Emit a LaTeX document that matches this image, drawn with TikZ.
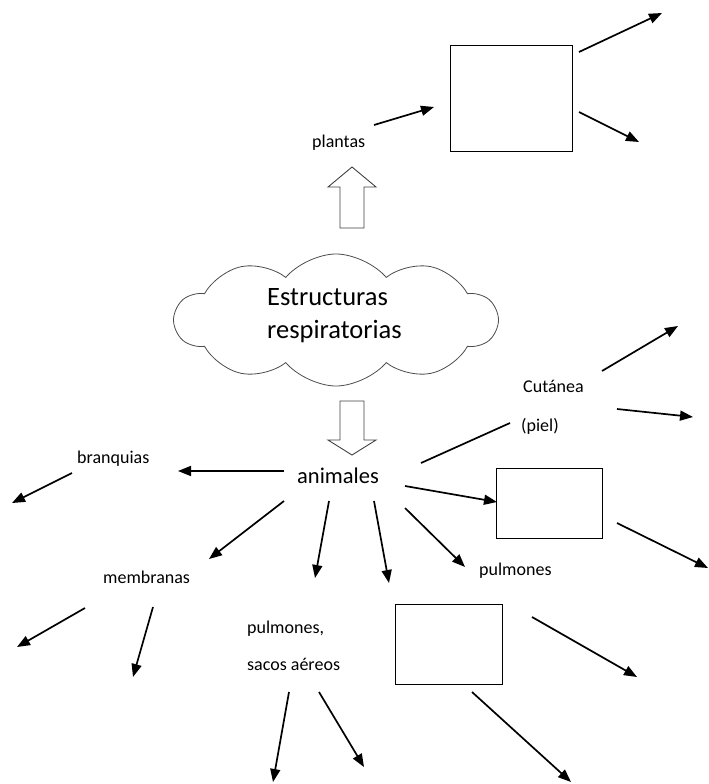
\documentclass[tikz,border=0pt]{standalone}
\usepackage{fontspec}
\setmainfont{Carlito}
\usetikzlibrary{arrows.meta,shapes.symbols}

\begin{document}
\begin{tikzpicture}[x=1pt,y=-1pt,
  lbl/.style={font=\fontsize{18}{20}\selectfont, inner sep=0pt, anchor=base west},
  biglbl/.style={font=\fontsize{22.5}{26}\selectfont, inner sep=0pt, anchor=base west},
  titlelbl/.style={font=\fontsize{26.5}{30}\selectfont, inner sep=0pt, anchor=base west},
  emptybox/.style={draw, line width=1.4pt, inner sep=0pt, anchor=north west},
  arr/.style={line width=1.7pt, -{Triangle[length=13pt,width=10pt]}},
  plainline/.style={line width=1.7pt},
  blockarrow/.style={draw=black!75, line width=0.9pt, fill=white, line join=miter},
]
\useasboundingbox (0,0) rectangle (709,784);

% cloud with the central title
\node[cloud, draw=black!70, line width=0.8pt, cloud puffs=10, cloud puff arc=100,
      cloud ignores aspect, minimum width=322pt, minimum height=132pt] (cloud) at (336,320) {};
\node[titlelbl] (title1) at (267,305) {Estructuras};
\node[titlelbl] (title2) at (267,338) {respiratorias};

% hollow block arrows up and down
\draw[blockarrow] (340,228) -- (340,187) -- (328,187) -- (352,167) -- (376,187) -- (364,187) -- (364,228) -- cycle;
\draw[blockarrow] (340,401) -- (340,440) -- (328,440) -- (352,455) -- (376,440) -- (364,440) -- (364,401) -- cycle;

% empty boxes
\node[emptybox, minimum width=122pt, minimum height=106pt] (boxP) at (450,45) {};
\node[emptybox, minimum width=106pt, minimum height=70pt] (boxR) at (496,468) {};
\node[emptybox, minimum width=107pt, minimum height=80pt] (boxB) at (395,604) {};

% labels
\node[lbl] (plantas) at (312,147) {plantas};
\node[biglbl] (animales) at (297,483) {animales};
\node[lbl] (branquias) at (77,463) {branquias};
\node[lbl] (membranas) at (103,583) {membranas};
\node[lbl] (pulm1) at (247,633) {pulmones,};
\node[lbl] (sacos) at (247,670) {sacos aéreos};
\node[lbl] (pulm2) at (479,575) {pulmones};
\node[lbl] (cutanea) at (523,392) {Cutánea};
\node[lbl] (piel) at (521,431) {(piel)};

% connector end points
\coordinate (pA) at (374,125);  \coordinate (pB) at (434,107);
\coordinate (bP1s) at (579,52);  \coordinate (bP1e) at (662,13);
\coordinate (bP2s) at (579,112); \coordinate (bP2e) at (639,142);
\coordinate (cu1s) at (602,371); \coordinate (cu1e) at (678,326);
\coordinate (cu2s) at (617,409); \coordinate (cu2e) at (693,417);
\coordinate (cuLs) at (421,463); \coordinate (cuLe) at (510,423);
\coordinate (anRs) at (405,486); \coordinate (anRe) at (497,502);
\coordinate (bRs) at (617,523);  \coordinate (bRe) at (708,568);
\coordinate (anPs) at (405,508); \coordinate (anPe) at (465,567);
\coordinate (anBs) at (284,471); \coordinate (anBe) at (178,471);
\coordinate (brs) at (72,473);   \coordinate (bre) at (12,503);
\coordinate (anMs) at (284,501); \coordinate (anMe) at (209,559);
\coordinate (anSs) at (329,501); \coordinate (anSe) at (315,578);
\coordinate (anXs) at (374,501); \coordinate (anXe) at (389,583);
\coordinate (me1s) at (85,608);  \coordinate (me1e) at (17,647);
\coordinate (me2s) at (153,607); \coordinate (me2e) at (133,677);
\coordinate (sa1s) at (289,692); \coordinate (sa1e) at (273,782);
\coordinate (sa2s) at (319,692); \coordinate (sa2e) at (364,767);
\coordinate (bB1s) at (532,617); \coordinate (bB1e) at (637,677);
\coordinate (bB2s) at (472,692); \coordinate (bB2e) at (571,782);

% connectors
\draw[arr] (pA) -- (pB);
\draw[arr] (bP1s) -- (bP1e);
\draw[arr] (bP2s) -- (bP2e);
\draw[arr] (cu1s) -- (cu1e);
\draw[arr] (cu2s) -- (cu2e);
\draw[plainline] (cuLs) -- (cuLe);
\draw[arr] (anRs) -- (anRe);
\draw[arr] (bRs) -- (bRe);
\draw[arr] (anPs) -- (anPe);
\draw[arr] (anBs) -- (anBe);
\draw[arr] (brs) -- (bre);
\draw[arr] (anMs) -- (anMe);
\draw[arr] (anSs) -- (anSe);
\draw[arr] (anXs) -- (anXe);
\draw[arr] (me1s) -- (me1e);
\draw[arr] (me2s) -- (me2e);
\draw[arr] (sa1s) -- (sa1e);
\draw[arr] (sa2s) -- (sa2e);
\draw[arr] (bB1s) -- (bB1e);
\draw[arr] (bB2s) -- (bB2e);
\end{tikzpicture}
\end{document}
